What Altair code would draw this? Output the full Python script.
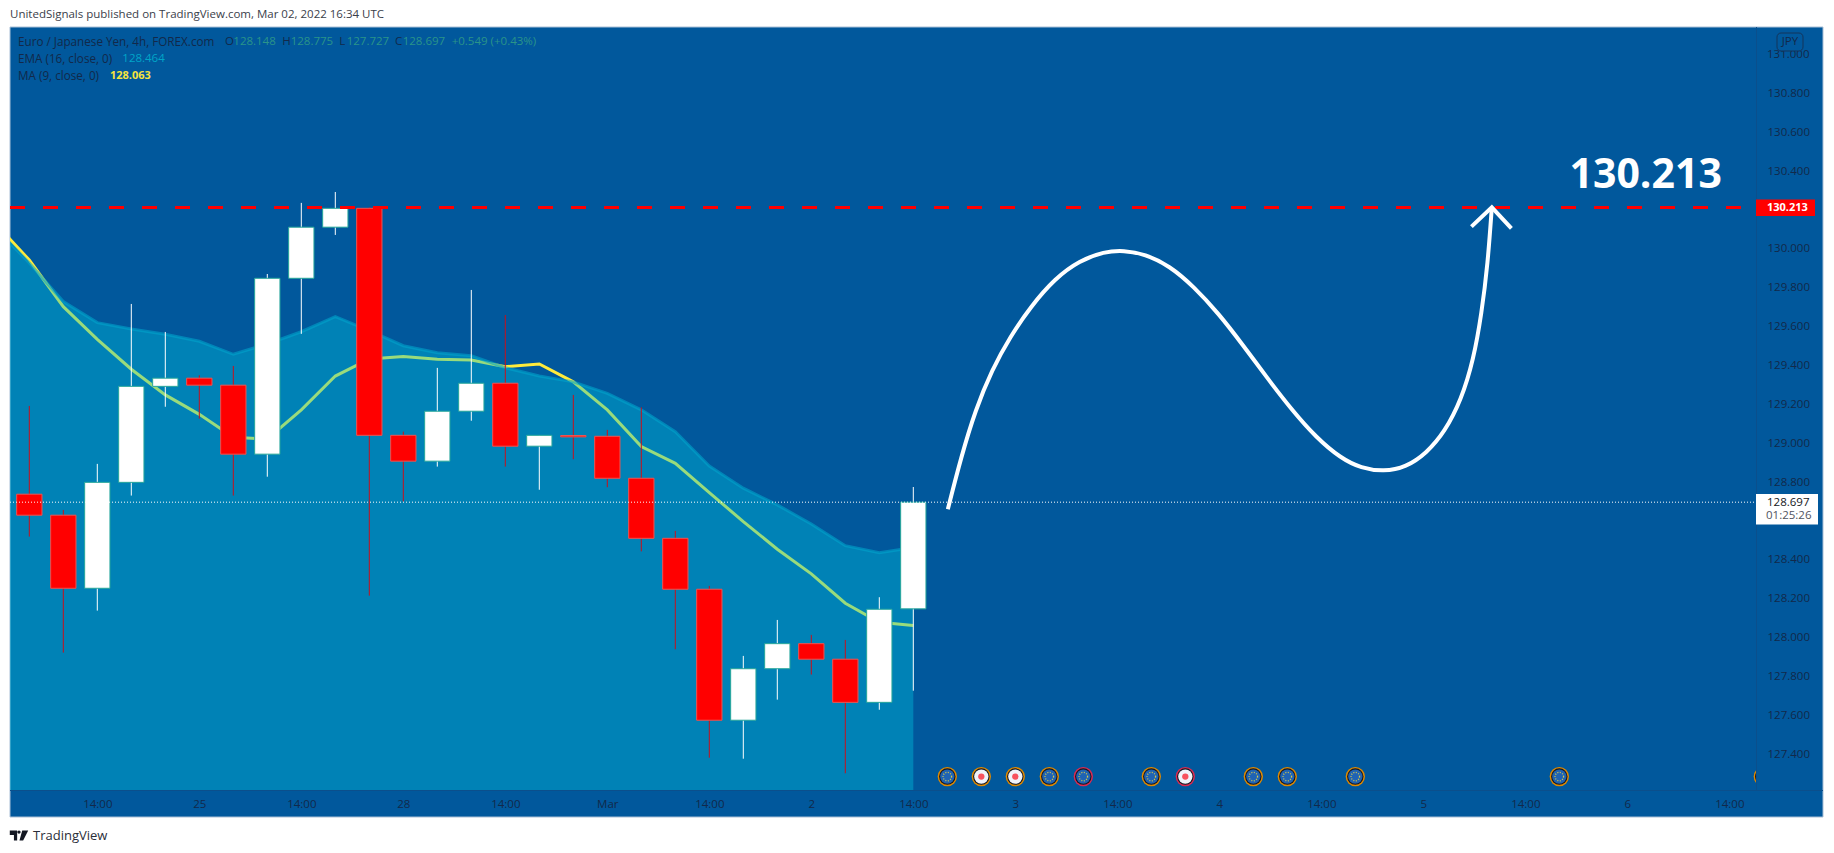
import altair as alt
import pandas as pd

# ---- candles (4h EUR/JPY) ----
opens = [128.738,128.630,128.254,128.799,129.293,129.335,129.299,128.944,129.849,130.112,130.209,129.041,128.908,129.165,129.309,128.985,129.040,129.036,128.820,128.511,128.249,127.575,127.840,127.969,127.889,127.667,128.148]
highs = [129.192,128.657,128.894,129.717,129.573,129.350,129.398,129.871,130.237,130.293,130.213,129.060,129.388,129.789,129.660,129.041,129.249,129.069,129.185,128.549,128.266,127.906,128.091,128.014,127.988,128.208,128.775]
lows = [128.520,127.923,128.139,128.731,129.188,129.127,128.731,128.828,129.563,130.072,128.216,128.700,128.880,129.116,128.880,128.761,128.918,128.774,128.444,127.940,127.382,127.377,127.681,127.810,127.302,127.629,127.727]
closes = [128.630,128.254,128.799,129.293,129.335,129.299,128.944,129.849,130.112,130.209,129.041,128.908,129.165,129.309,128.985,129.041,129.033,128.820,128.511,128.249,127.575,127.840,127.969,127.889,127.667,128.146,128.697]

# ---- indicators, index -1 lies just left of the visible range ----
ema = [130.108,129.928,129.729,129.621,129.588,129.561,129.525,129.458,129.511,129.574,129.652,129.580,129.502,129.466,129.451,129.389,129.346,129.316,129.257,129.172,129.060,128.883,128.769,128.683,128.585,128.473,128.437,128.464]
ma = [130.131,129.943,129.703,129.535,129.381,129.249,129.149,129.031,129.022,129.172,129.346,129.434,129.446,129.432,129.429,129.394,129.408,129.316,129.172,128.983,128.897,128.746,128.597,128.455,128.328,128.177,128.079,128.063]

# ---- hand-drawn projection ----
path_i = [27.015,27.409,27.829,28.309,28.85,29.45,30.171,30.891,31.612,32.188,32.812,33.532,34.253,34.974,35.694,36.412,37.132,37.853,38.574,39.174,39.835,40.494,41.094,41.635,42.115,42.476,42.715,42.897,43.015]
path_p = [128.661,128.931,129.172,129.377,129.549,129.703,129.849,129.940,129.986,129.993,129.974,129.914,129.806,129.669,129.506,129.335,129.172,129.029,128.923,128.872,128.854,128.877,128.949,129.060,129.223,129.429,129.669,129.926,130.214]
head_i = [42.415,43.015,43.591]
head_p = [130.115,130.214,130.106]

# ---- axes ----
time_ticks = [2,5,8,11,14,17,20,23,26,29,32,35,38,41,44,47,50]
time_labels = ["14:00","25","14:00","28","14:00","Mar","14:00","2","14:00","3","14:00","4","14:00","5","14:00","6","14:00"]
price_ticks = [130.8,130.6,130.4,130.0,129.8,129.6,129.4,129.2,129.0,128.8,128.4,128.2,128.0,127.8,127.6,127.4]

# ---- events ----
ev_i = [27,28,29,30,31,33,34,36,37,39,45,51]
ev_kind = ["eu","jp","jp","eu","eu","eu","jp","eu","eu","eu","eu","eu"]
ev_ring = ["o","o","o","o","r","o","r","o","o","o","o","o"]
ev_price = 127.285

target = 130.213
last = 128.697

BG = "#01589c"
INK = "#12294a"
FONT = "Open Sans"

xs = alt.Scale(domain=[-0.568, 50.785], nice=False, zero=False, padding=0)
ys = alt.Scale(domain=[127.216, 131.142], nice=False, zero=False, padding=0)
label_expr = "[" + ",".join(f"'{t}'" for t in time_labels) + "][(datum.value-2)/3]"
xaxis = alt.Axis(values=time_ticks, labelExpr=label_expr, domain=False, ticks=False, grid=False, title=None,
                 labelColor=INK, labelFont=FONT, labelFontSize=11.5, labelPadding=8, labelOverlap=False,
                 labelFlush=False, zindex=1)
yaxis = alt.Axis(values=price_ticks, format=".3f", orient="right", domain=False, ticks=False, grid=False, title=None,
                 labelColor=INK, labelFont=FONT, labelFontSize=11.5, labelPadding=11, labelOverlap=False,
                 labelFlush=False, zindex=1)
X = lambda f: alt.X(f, type="quantitative", scale=xs, axis=xaxis)
Y = lambda f: alt.Y(f, type="quantitative", scale=ys, axis=yaxis)

candles = pd.DataFrame({"i": range(len(opens)), "o": opens, "h": highs, "l": lows, "c": closes})
candles["dir"] = ["up" if c >= o else "down" for o, c in zip(opens, closes)]
lines = pd.DataFrame({"i": list(range(-1, len(ema) - 1)), "ema": ema, "ma": ma})
path = pd.DataFrame({"i": path_i, "p": path_p})
head = pd.DataFrame({"i": head_i, "p": head_p})
events = pd.DataFrame({"i": ev_i, "kind": ev_kind, "ring": ev_ring, "p": [ev_price] * len(ev_i)})
one = alt.Data(values=[{"a": 1}])


def box(x0, y0, x1, y1, fill, **kw):
    """Chart furniture, given in page pixels."""
    return alt.Chart(one).mark_rect(fill=fill, **kw).encode(
        x=alt.value(x0 - 10), x2=alt.value(x1 - 10), y=alt.value(y0 - 27), y2=alt.value(y1 - 27))


def txt(s, x, y, color=INK, size=11.5, weight="normal", align="left", font=FONT):
    return alt.Chart(one).mark_text(text=s, color=color, fontSize=size, fontWeight=weight, align=align,
                                    baseline="middle", font=font).encode(
        x=alt.value(x - 10), y=alt.value(y - 27))


layers = []
# panel
layers.append(box(10, 27, 1823, 817, BG, stroke="#a9bfd6", strokeWidth=1))
layers.append(box(1756, 27, 1757, 790, "#0b4f8c"))
layers.append(box(10, 790, 1823, 791, "#0b4f8c"))

# axes carrier + MA below the area
layers.append(alt.Chart(lines).mark_line(color="#ffeb3b", strokeWidth=3, clip=True).encode(x=X("i"), y=Y("ma")))
# EMA area with its line on top of the MA
layers.append(alt.Chart(lines).mark_area(color="#00c3df", opacity=0.4, clip=True).encode(
    x=X("i"), y=Y("ema"), y2=alt.Y2(datum=127.216)))
layers.append(alt.Chart(lines).mark_line(color="#00a3cc", strokeWidth=3, opacity=0.6, clip=True).encode(x=X("i"), y=Y("ema")))

# candles
layers.append(alt.Chart(candles).mark_rule(strokeWidth=1).encode(
    x=X("i"), y=Y("l"), y2=alt.Y2("h"),
    color=alt.Color("dir:N", scale=alt.Scale(domain=["up", "down"], range=["#ffffff", "#c8101c"]), legend=None)))
layers.append(alt.Chart(candles).mark_bar(size=25.3, strokeWidth=1).encode(
    x=X("i"), y=Y("o"), y2=alt.Y2("c"),
    fill=alt.Fill("dir:N", scale=alt.Scale(domain=["up", "down"], range=["#ffffff", "#ff0000"]), legend=None),
    stroke=alt.Stroke("dir:N", scale=alt.Scale(domain=["up", "down"], range=["#26a69a", "#ef5350"]), legend=None)))

# levels
layers.append(alt.Chart(one).mark_rule(color="#ffffff", strokeWidth=1, strokeDash=[1, 2]).encode(
    y=alt.Y(datum=last, scale=ys, axis=yaxis), x=alt.value(0), x2=alt.value(1746)))
layers.append(alt.Chart(one).mark_rule(color="#ff0000", strokeWidth=3, strokeDash=[15, 18]).encode(
    y=alt.Y(datum=target, scale=ys, axis=yaxis), x=alt.value(0), x2=alt.value(1746)))

# projection
layers.append(alt.Chart(path).mark_line(color="#ffffff", strokeWidth=4, interpolate="basis").encode(x=X("i"), y=Y("p")))
layers.append(alt.Chart(head).mark_line(color="#ffffff", strokeWidth=4).encode(x=X("i"), y=Y("p")))
layers.append(alt.Chart(pd.DataFrame({"i": [47.54], "p": [130.314], "t": ["130.213"]})).mark_text(
    color="#ffffff", fontSize=41, fontWeight="bold", font=FONT, align="center", baseline="alphabetic").encode(
    x=X("i"), y=Y("p"), text="t:N"))

# event badges
ring = alt.Chart(events).mark_point(filled=True, size=373, opacity=1, clip=True).encode(
    x=X("i"), y=Y("p"),
    color=alt.Color("ring:N", scale=alt.Scale(domain=["o", "r"], range=["#e08a00", "#dd2a52"]), legend=None))
dark = alt.Chart(events).mark_point(filled=True, size=270, opacity=1, color="#131722", clip=True).encode(x=X("i"), y=Y("p"))
disc = alt.Chart(events).mark_point(filled=True, size=205, opacity=1, clip=True).encode(
    x=X("i"), y=Y("p"),
    color=alt.Color("kind:N", scale=alt.Scale(domain=["eu", "jp"], range=["#1f63b4", "#f0f3fa"]), legend=None))
dot = alt.Chart(events).transform_filter("datum.kind=='jp'").mark_point(
    filled=True, size=40, opacity=1, color="#f7525f", clip=True).encode(x=X("i"), y=Y("p"))
stars = alt.Chart(events).transform_filter("datum.kind=='eu'").mark_point(
    filled=False, size=72, opacity=1, color="#d5c84b", strokeWidth=1.3, strokeDash=[1, 1.5], clip=True).encode(x=X("i"), y=Y("p"))
layers += [ring, dark, disc, dot, stars]

# price scale furniture
layers.append(alt.Chart(pd.DataFrame({"p": [131.0], "t": ["131.000"]})).mark_text(
    color=INK, fontSize=11.5, font=FONT, align="left", baseline="middle").encode(
    x=alt.value(1757), y=Y("p"), text="t:N"))
layers.append(box(1777, 33, 1803, 51, BG, stroke="#15345a", strokeWidth=1, cornerRadius=4))
layers.append(txt("JPY", 1790, 42, size=11.5, align="center"))
layers.append(box(1756, 199.5, 1815, 216, "#ff0000"))
layers.append(txt("130.213", 1767, 207.5, color="#ffffff", size=11, weight="bold"))
layers.append(box(1756, 494, 1818, 524.5, "#ffffff"))
layers.append(txt("128.697", 1767, 502.5, color="#131722", size=11.5))
layers.append(txt("01:25:26", 1766, 516, color="#50535e", size=11.5))

# header, legend, footer
layers.append(txt("UnitedSignals published on TradingView.com, Mar 02, 2022 16:34 UTC", 10, 15, color="#3a3e4a", size=11.5))
layers.append(txt("Euro / Japanese Yen, 4h, FOREX.com", 18, 41.5, size=11.7))
OHLC_TEAL = "#2a9489"
for s, x, c in [("O", 225, INK), ("128.148", 233.3, OHLC_TEAL), ("H", 282.3, INK), ("128.775", 290.7, OHLC_TEAL),
                ("L", 339.3, INK), ("127.727", 346.7, OHLC_TEAL), ("C", 395, INK), ("128.697", 402.7, OHLC_TEAL),
                ("+0.549 (+0.43%)", 451.7, OHLC_TEAL)]:
    layers.append(txt(s, x, 41.5, color=c))
layers.append(txt("EMA (16, close, 0)", 18, 59, size=11.7))
layers.append(txt("128.464", 122.3, 59, color="#00a5c8"))
layers.append(txt("MA (9, close, 0)", 18, 76, size=11.7))
layers.append(txt("128.063", 110, 76, color="#f5e43c", weight="bold", size=11))
layers.append(txt("TradingView", 33, 836, color="#2a2e39", size=13))
layers.append(alt.Chart(one).mark_point(
    shape="M-1,-0.55H-0.2V0.55H-0.55V-0.05H-1ZM0,-0.55A0.17,0.17 0 1 1 0,-0.2A0.17,0.17 0 1 1 0,-0.55ZM0.35,-0.55H1L0.45,0.55H0.05Z",
    filled=True, size=340, opacity=1, color="#131722").encode(x=alt.value(9), y=alt.value(808.5)))

chart = alt.layer(*layers).resolve_scale(fill="independent", stroke="independent", color="independent").properties(
    width=1746, height=763,
    autosize=alt.AutoSizeParams(type="none"),
    padding={"left": 2, "top": 19, "right": 70, "bottom": 55},
    background="#ffffff",
).configure_view(stroke=None)

chart.save("out.html", embed_options={"renderer": "svg", "actions": False})
